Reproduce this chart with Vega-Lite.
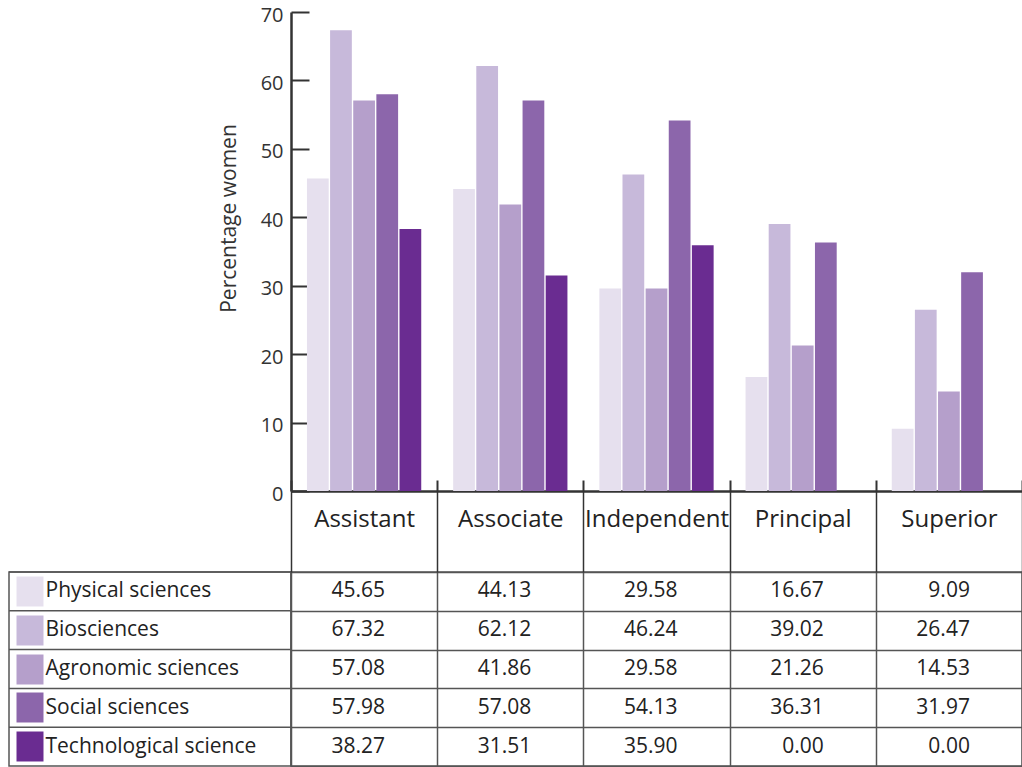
{
  "$schema": "https://vega.github.io/schema/vega-lite/v6.json",
  "padding": {"left": 0, "top": 5, "right": 0, "bottom": 0},
  "autosize": {"type": "pad"},
  "background": "white",
  "datasets": {
    "d": [
      {"rank": "Assistant", "series": "Physical sciences", "value": 45.65},
      {"rank": "Assistant", "series": "Biosciences", "value": 67.32},
      {"rank": "Assistant", "series": "Agronomic sciences", "value": 57.08},
      {"rank": "Assistant", "series": "Social sciences", "value": 57.98},
      {"rank": "Assistant", "series": "Technological science", "value": 38.27},
      {"rank": "Associate", "series": "Physical sciences", "value": 44.13},
      {"rank": "Associate", "series": "Biosciences", "value": 62.12},
      {"rank": "Associate", "series": "Agronomic sciences", "value": 41.86},
      {"rank": "Associate", "series": "Social sciences", "value": 57.08},
      {"rank": "Associate", "series": "Technological science", "value": 31.51},
      {"rank": "Independent", "series": "Physical sciences", "value": 29.58},
      {"rank": "Independent", "series": "Biosciences", "value": 46.24},
      {"rank": "Independent", "series": "Agronomic sciences", "value": 29.58},
      {"rank": "Independent", "series": "Social sciences", "value": 54.13},
      {"rank": "Independent", "series": "Technological science", "value": 35.90},
      {"rank": "Principal", "series": "Physical sciences", "value": 16.67},
      {"rank": "Principal", "series": "Biosciences", "value": 39.02},
      {"rank": "Principal", "series": "Agronomic sciences", "value": 21.26},
      {"rank": "Principal", "series": "Social sciences", "value": 36.31},
      {"rank": "Principal", "series": "Technological science", "value": 0.00},
      {"rank": "Superior", "series": "Physical sciences", "value": 9.09},
      {"rank": "Superior", "series": "Biosciences", "value": 26.47},
      {"rank": "Superior", "series": "Agronomic sciences", "value": 14.53},
      {"rank": "Superior", "series": "Social sciences", "value": 31.97},
      {"rank": "Superior", "series": "Technological science", "value": 0.00}
    ]
  },
  "columns": 2,
  "spacing": {"row": 81, "column": 0},
  "bounds": "flush",
  "concat": [
    {
      "data": {"values": []},
      "mark": "point",
      "width": 282,
      "height": 479
    },
    {
      "data": {"name": "d"},
      "width": 731,
      "height": 479,
      "mark": {"type": "bar"},
      "encoding": {
        "x": {
          "field": "rank", "type": "nominal",
          "scale": {"domain": ["Assistant", "Associate", "Independent", "Principal", "Superior"], "paddingInner": 0, "paddingOuter": 0},
          "axis": {"title": null, "labels": false, "tickBand": "extent", "tickSize": -11, "tickWidth": 2, "tickColor": "#333", "domainColor": "#333", "domainWidth": 2.5, "grid": false}
        },
        "xOffset": {
          "field": "series", "type": "nominal",
          "scale": {"domain": ["Physical sciences", "Biosciences", "Agronomic sciences", "Social sciences", "Technological science"], "paddingInner": 0.06, "paddingOuter": 0.69}
        },
        "y": {
          "field": "value", "type": "quantitative",
          "scale": {"domain": [0, 70], "nice": false},
          "axis": {"values": [0, 10, 20, 30, 40, 50, 60, 70], "title": "Percentage women", "grid": false, "tickSize": -18, "tickWidth": 2, "tickColor": "#333", "domainColor": "#333", "domainWidth": 2.5, "labelFontSize": 20, "labelPadding": 26, "labelOffset": 3, "labelColor": "#333", "titleFontSize": 21, "titleFontWeight": "normal", "titleColor": "#333", "titleX": -52, "titleY": 206}
        },
        "color": {
          "field": "series", "type": "nominal",
          "scale": {"domain": ["Physical sciences", "Biosciences", "Agronomic sciences", "Social sciences", "Technological science"], "range": ["#e6e0ee", "#c7b9da", "#b59fcb", "#8c66ab", "#6a2c91"]},
          "legend": null
        }
      }
    },
    {
      "data": {"name": "d"},
      "transform": [{"filter": "datum.rank === 'Assistant'"}],
      "width": 282,
      "height": 194,
      "view": {"stroke": "#555", "strokeWidth": 1.5},
      "mark": {"type": "rule", "color": "#555", "strokeWidth": 1.5},
      "encoding": {
        "y": {
          "field": "series", "type": "nominal", "bandPosition": 0,
          "scale": {"domain": ["Physical sciences", "Biosciences", "Agronomic sciences", "Social sciences", "Technological science"], "paddingInner": 0, "paddingOuter": 0},
          "axis": {
            "orient": "right", "offset": -275, "title": null, "domain": false, "grid": false,
            "tickSize": 27, "tickWidth": 30, "labelPadding": 2, "labelFontSize": 21, "labelColor": "#222", "labelLimit": 300,
            "tickColor": {
              "condition": [
                {"test": "datum.value === 'Physical sciences'", "value": "#e6e0ee"},
                {"test": "datum.value === 'Biosciences'", "value": "#c7b9da"},
                {"test": "datum.value === 'Agronomic sciences'", "value": "#b59fcb"},
                {"test": "datum.value === 'Social sciences'", "value": "#8c66ab"}
              ],
              "value": "#6a2c91"
            }
          }
        }
      }
    },
    {
      "data": {"name": "d"},
      "width": 731,
      "height": 194,
      "view": {"stroke": "#555", "strokeWidth": 1.5},
      "mark": {"type": "text", "align": "right", "baseline": "middle", "dx": 21, "fontSize": 21, "font": "Open Sans", "color": "#222"},
      "encoding": {
        "x": {
          "field": "rank", "type": "nominal",
          "scale": {"domain": ["Assistant", "Associate", "Independent", "Principal", "Superior"], "paddingInner": 0, "paddingOuter": 0},
          "axis": {"orient": "top", "title": null, "domain": false, "tickBand": "extent", "tickSize": 81, "tickWidth": 1.5, "tickColor": "#333", "grid": true, "gridColor": "#555", "gridWidth": 1.5, "labelFontSize": 24, "labelBaseline": "alphabetic", "labelPadding": -35, "labelColor": "#222", "labelAngle": 0}
        },
        "y": {
          "field": "series", "type": "nominal",
          "scale": {"domain": ["Physical sciences", "Biosciences", "Agronomic sciences", "Social sciences", "Technological science"], "paddingInner": 0, "paddingOuter": 0},
          "axis": {"title": null, "labels": false, "ticks": false, "domain": false, "grid": true, "tickBand": "extent", "gridColor": "#555", "gridWidth": 1.5}
        },
        "text": {"field": "value", "type": "quantitative", "format": ".2f"}
      }
    }
  ],
  "config": {
    "view": {"stroke": null},
    "font": "Open Sans",
    "axis": {"labelFont": "Open Sans", "titleFont": "Open Sans"}
  }
}
